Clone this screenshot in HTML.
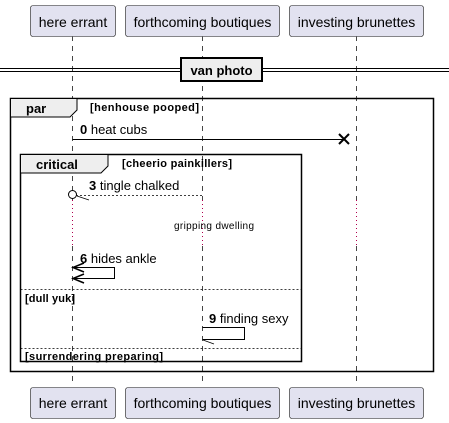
<!DOCTYPE html>
<html><head><meta charset="utf-8"><style>
body{margin:0;background:#fff;width:449px;height:423px;overflow:hidden}
svg{display:block;font-family:"Liberation Sans",sans-serif}
</style></head><body>
<svg width="449" height="423" viewBox="0 0 449 423">
<g stroke="#181818" stroke-width="0.8" stroke-dasharray="5,5">
<line x1="72.5" y1="36" x2="72.5" y2="386"/>
<line x1="202.5" y1="36" x2="202.5" y2="386"/>
<line x1="356.5" y1="36" x2="356.5" y2="386"/>
</g>
<g stroke="#fff" stroke-width="2"><line x1="72.5" y1="200" x2="72.5" y2="246"/><line x1="202.5" y1="200" x2="202.5" y2="246"/><line x1="356.5" y1="200" x2="356.5" y2="246"/></g>
<g stroke="#b0004e" stroke-width="1" stroke-dasharray="1,3"><line x1="72.5" y1="200" x2="72.5" y2="246"/><line x1="202.5" y1="200" x2="202.5" y2="246"/><line x1="356.5" y1="200" x2="356.5" y2="246"/></g>
<g fill="#e2e2f0" stroke="#181818" stroke-width="0.6">
<rect x="30.5" y="5.5" width="85" height="31" rx="2.5"/>
<rect x="125.5" y="5.5" width="154" height="31" rx="2.5"/>
<rect x="289.5" y="5.5" width="134" height="31" rx="2.5"/>
<rect x="30.5" y="387.5" width="85" height="31" rx="2.5"/>
<rect x="125.5" y="387.5" width="154" height="31" rx="2.5"/>
<rect x="289.5" y="387.5" width="134" height="31" rx="2.5"/>
</g>
<g font-size="14" fill="#000" text-anchor="middle">
<text x="73" y="27">here errant</text><text x="202.5" y="27">forthcoming boutiques</text><text x="356.5" y="27">investing brunettes</text>
<text x="73" y="408">here errant</text><text x="202.5" y="408">forthcoming boutiques</text><text x="356.5" y="408">investing brunettes</text>
</g>
<g stroke="#000" stroke-width="1"><line x1="0" y1="68.5" x2="449" y2="68.5"/><line x1="0" y1="71.5" x2="449" y2="71.5"/></g>
<rect x="181" y="58" width="81" height="23" fill="#eee" stroke="#000" stroke-width="2"/>
<text x="221.5" y="75" font-size="13" font-weight="bold" text-anchor="middle">van photo</text>
<rect x="10.5" y="98.5" width="423" height="273" fill="none" stroke="#000" stroke-width="1.5"/>
<path d="M10.5 98.5 H77 V110 L70 117 H10.5 Z" fill="#eee" stroke="#000" stroke-width="1"/>
<text x="26" y="113" font-size="13" font-weight="bold">par</text>
<text x="90" y="111" font-size="11" font-weight="bold" textLength="109">[henhouse pooped]</text>
<line x1="72.5" y1="139.5" x2="345" y2="139.5" stroke="#000" stroke-width="1"/>
<path d="M339 134 L349 144 M349 134 L339 144" stroke="#000" stroke-width="2"/>
<text x="80" y="134" font-size="13"><tspan font-weight="bold">0</tspan> heat cubs</text>
<rect x="20.5" y="154.5" width="281" height="207" fill="none" stroke="#000" stroke-width="1.5"/>
<path d="M20.5 154.5 H108 V166 L101 173 H20.5 Z" fill="#eee" stroke="#000" stroke-width="1"/>
<text x="36" y="169" font-size="13" font-weight="bold">critical</text>
<text x="122" y="167" font-size="11" font-weight="bold" textLength="110">[cheerio painkillers]</text>
<line x1="76" y1="195.5" x2="202" y2="195.5" stroke="#000" stroke-width="0.8" stroke-dasharray="2,2"/>
<circle cx="72.5" cy="194.5" r="4" fill="#fff" stroke="#000" stroke-width="1"/>
<line x1="77" y1="196" x2="89" y2="200" stroke="#000" stroke-width="0.8"/>
<text x="89" y="190" font-size="13"><tspan font-weight="bold">3</tspan> tingle chalked</text>
<text x="174" y="229" font-size="10" textLength="80">gripping dwelling</text>
<text x="80" y="263" font-size="13"><tspan font-weight="bold">6</tspan> hides ankle</text>
<path d="M72.5 267.5 H114.5 V278.5 H72.5" fill="none" stroke="#000" stroke-width="1"/>
<path d="M84 263 L73 267.5 L84 272 M84 274 L73 278.5 L84 283" fill="none" stroke="#000" stroke-width="1.5"/>
<line x1="20.5" y1="289.5" x2="301.5" y2="289.5" stroke="#000" stroke-width="0.8" stroke-dasharray="2,2"/>
<text x="25" y="302" font-size="11" font-weight="bold" textLength="50">[dull yuk]</text>
<text x="209" y="323" font-size="13"><tspan font-weight="bold">9</tspan> finding sexy</text>
<path d="M202.5 327.5 H244.5 V339.5 H202.5" fill="none" stroke="#000" stroke-width="1"/>
<line x1="203" y1="340" x2="214" y2="344" stroke="#000" stroke-width="0.8"/>
<line x1="20.5" y1="348.5" x2="301.5" y2="348.5" stroke="#000" stroke-width="0.8" stroke-dasharray="2,2"/>
<text x="25" y="360" font-size="11" font-weight="bold" textLength="138">[surrendering preparing]</text>
</svg>
</body></html>
